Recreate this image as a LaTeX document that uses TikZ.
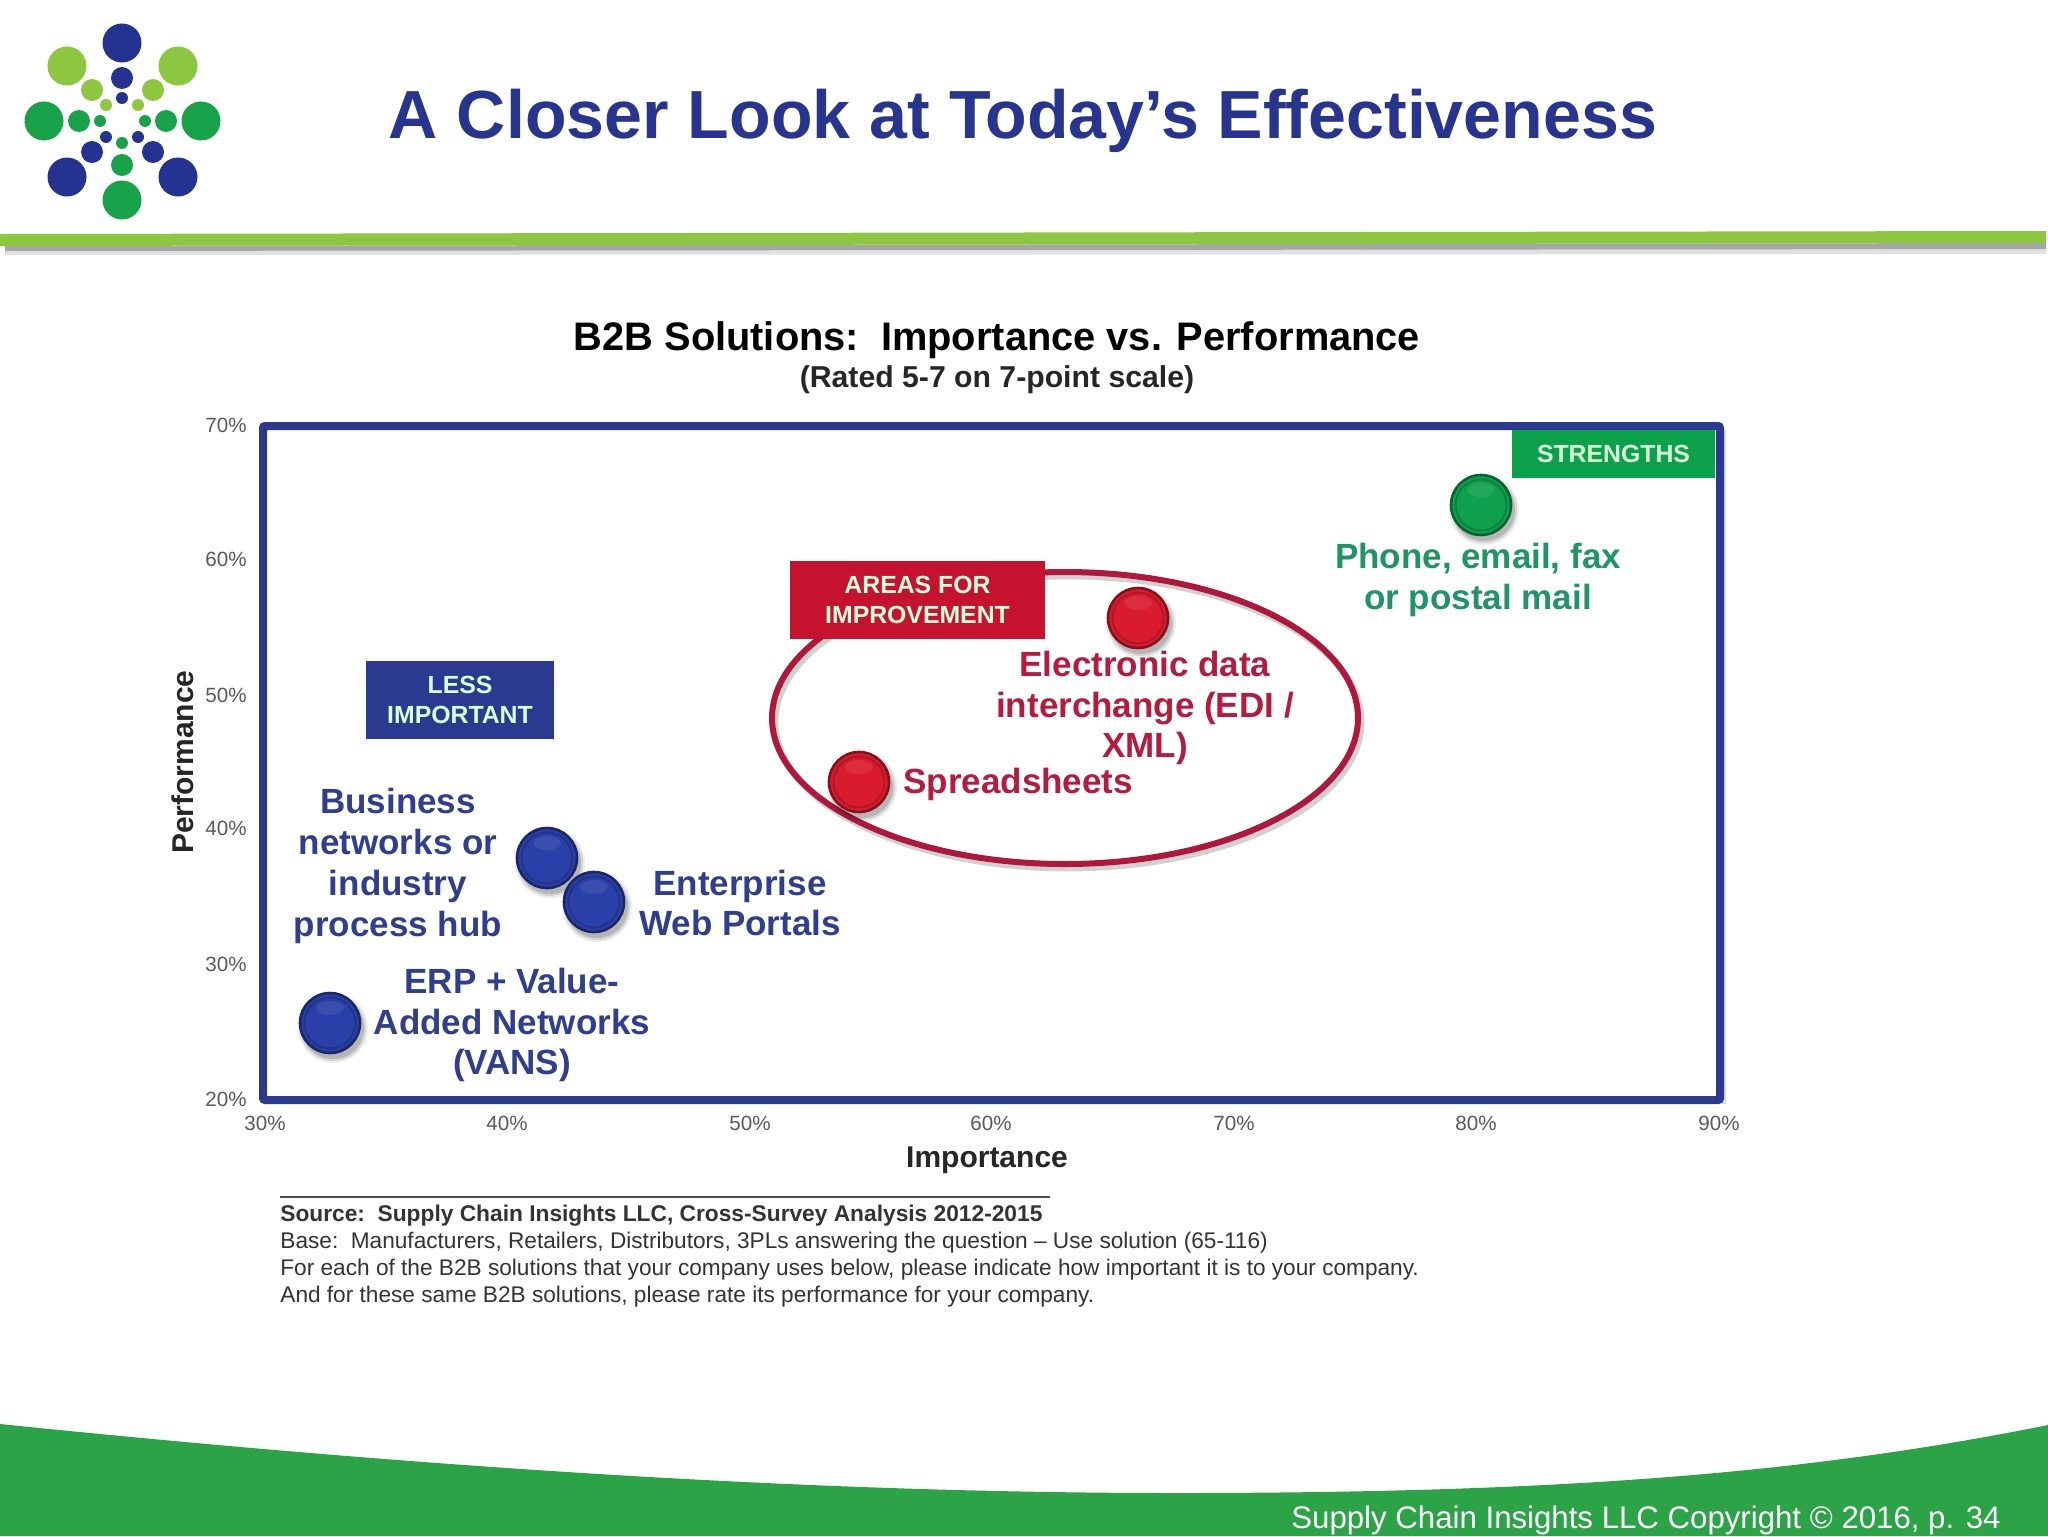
\documentclass[tikz,border=0pt]{standalone}
\usepackage{fontspec}
\setmainfont{Liberation Sans}
\definecolor{navy}{HTML}{2B3990}
\definecolor{logonavy}{HTML}{24338F}
\definecolor{titleblue}{HTML}{27358F}
\definecolor{logogreen}{HTML}{18A24A}
\definecolor{lime}{HTML}{8DC63F}
\definecolor{footgreen}{HTML}{2CA346}
\definecolor{boxgreen}{HTML}{0BA14B}
\definecolor{boxred}{HTML}{C4122F}
\definecolor{ringred}{HTML}{B0173C}
\definecolor{lblblue}{HTML}{2F3E8F}
\definecolor{lblred}{HTML}{B51B3E}
\definecolor{lblgreen}{HTML}{1F9563}
\definecolor{ballblue}{HTML}{2A3FA8}
\definecolor{ballred}{HTML}{D81C2E}
\definecolor{ballgreen}{HTML}{0FA04E}
\newcommand{\fsz}[2]{\fontsize{#1}{#2}\selectfont}
\newcommand{\dotc}[4]{\fill[#1] (#2,#3) circle[radius=#4];}
\newcommand{\ball}[4]{%
  \fill[black,opacity=.07] (#2+3,#3+5) circle[radius=35];
  \fill[black,opacity=.10] (#2+3,#3+5) circle[radius=33];
  \fill[black,opacity=.14] (#2+3,#3+5) circle[radius=31];
  \node[ballnode,fill=ball#1,draw=ball#1!62!black] (#4) at (#2,#3) {};
  \draw[ball#1!82!black,line width=1pt] (#2,#3) circle[radius=25.5];
  \fill[white,opacity=.08] (#2,#3-15) ellipse[x radius=14,y radius=7];
  }
\tikzset{
  ballnode/.style={circle,minimum size=30pt,inner sep=0pt,line width=1.3pt},
  tick/.style={font=\fsz{10.3}{12},text=black!65},
  lbl/.style={font=\bfseries\fsz{17.5}{20.4},align=center,inner sep=0pt},
  bluelbl/.style={lbl,text=lblblue},
  redlbl/.style={lbl,text=lblred},
  greenlbl/.style={lbl,text=lblgreen},
  tag/.style={font=\bfseries\fsz{12.4}{15},align=center,inner sep=0pt,text=white!85!green},
  note/.style={font=\fsz{11.32}{13},anchor=west,inner sep=0pt,text=black!80},
}
\begin{document}
\begin{tikzpicture}[x=0.5pt,y=-0.5pt]
\useasboundingbox (0,0) rectangle (2048,1536);
\fill[white] (0,0) rectangle (2048,1536);
% logo
\foreach \a/\b/\c/\d in {logonavy/122/43/19.5,logonavy/122/78/11,logonavy/122/98/6,
  lime/67/66/19.5,lime/178/66/19.5,lime/92/90/11,lime/153/90/11,lime/106/105/6,lime/138/105/6,
  logogreen/44/121/19.5,logogreen/201/121/19.5,logogreen/79/121/11,logogreen/166/121/11,logogreen/100/121/6,logogreen/145/121/6,
  logonavy/67/177/19.5,logonavy/178/177/19.5,logonavy/92/152/11,logonavy/153/152/11,logonavy/106/137/6,logonavy/138/137/6,
  logogreen/122/200/19.5,logogreen/122/165/11,logogreen/122/143/6}
  {\dotc{\a}{\b}{\c}{\d}}
% header
\node[font=\bfseries\fsz{34.06}{40},text=titleblue,inner sep=0pt] (title) at (1023,121) {A Closer Look at Today’s Effectiveness};
\fill[black!12] (5,246) -- (2046,243) -- (2046,254) -- (5,255) -- cycle;
\fill[black!35] (5,246) -- (2046,243) -- (2046,249) -- (5,251) -- cycle;
\fill[lime] (0,234) -- (2046,231) -- (2046,243) -- (0,246) -- cycle;
% footer
\fill[footgreen] (0,1424) .. controls (400,1465) and (800,1493) .. (1175,1493) .. controls (1550,1493) and (1800,1475) .. (2048,1425) -- (2048,1536) -- (0,1536) -- cycle;
\node[font=\fsz{15.6}{19},text=white,anchor=east,inner sep=0pt] (copy) at (2001,1520) {Supply Chain Insights LLC Copyright © 2016, p. 34};
% chart title
\node[font=\bfseries\fsz{19.9}{23},inner sep=0pt] (ct) at (997,340) {B2B Solutions:\ \ Importance vs. Performance};
\node[font=\bfseries\fsz{15.1}{17},inner sep=0pt,text=black!85] (cs) at (997,380) {(Rated 5-7 on 7-point scale)};
% frame
\fill[navy!18] (266,430) rectangle (1726,1104);
\draw[navy,line width=4pt,fill=white,rounded corners=1pt] (263,426) rectangle (1720,1100);
% tags
\node[fill=boxgreen,minimum width=101.5pt,minimum height=24pt,tag] (str) at (1613.5,454) {STRENGTHS};
% ellipse
\draw[black!18,line width=3.4pt] (1068,722) ellipse[x radius=293,y radius=146];
\draw[ringred,line width=3pt] (1065,718) ellipse[x radius=293,y radius=146];
\node[fill=boxred,minimum width=127.5pt,minimum height=39pt,tag] (afi) at (917.5,600) {AREAS FOR\\IMPROVEMENT};
\node[fill=navy,minimum width=94pt,minimum height=39pt,tag] (li) at (460,700) {LESS\\IMPORTANT};
% balls
\ball{green}{1481}{505}{b1}
\ball{red}{1138}{618}{b2}
\ball{red}{859}{782}{b3}
\ball{blue}{547}{858}{b4}
\ball{blue}{594}{902}{b5}
\ball{blue}{330}{1023}{b6}
% labels
\node[greenlbl] (l1) at (1478,580) {Phone, email, fax\\or postal mail};
\node[redlbl] (l2) at (1145,708) {Electronic data\\interchange (EDI /\\XML)};
\node[redlbl,anchor=west] (l3) at (903,784) {Spreadsheets};
\node[bluelbl] (l4) at (398,866) {Business\\networks or\\industry\\process hub};
\node[bluelbl] (l5) at (740,903) {Enterprise\\Web Portals};
\node[bluelbl] (l6) at (512,1025) {ERP + Value-\\Added Networks\\(VANS)};
% ticks
\foreach \n/\t/\y in {ya/70/425,yb/60/559,yc/50/695,yd/40/828,ye/30/964,yf/20/1099}
  \node[tick,anchor=east,inner sep=0pt] (\n) at (247,\y) {\t\%};
\foreach \n/\t/\x in {xa/30/265,xb/40/507,xc/50/750,xd/60/991,xe/70/1234,xf/80/1476,xg/90/1719}
  \node[tick,inner sep=0pt] (\n) at (\x,1123) {\t\%};
\node[font=\bfseries\fsz{15}{17},rotate=90,inner sep=0pt,text=black!85] (yl) at (183,762) {Performance};
\node[font=\bfseries\fsz{15}{17},inner sep=0pt,text=black!85] (xl) at (987,1160) {Importance};
% source
\coordinate (sa) at (280,1197);
\coordinate (sb) at (1050,1197);
\draw[black!70,line width=1pt] (sa) -- (sb);
\node[note,font=\bfseries\fsz{11.37}{13}] (n1) at (280,1216) {Source:\ \ Supply Chain Insights LLC, Cross-Survey Analysis 2012-2015};
\node[note] (n2) at (280,1243) {Base:\ \ Manufacturers, Retailers, Distributors, 3PLs answering the question – Use solution (65-116)};
\node[note] (n3) at (280,1270) {For each of the B2B solutions that your company uses below, please indicate how important it is to your company.};
\node[note] (n4) at (280,1297) {And for these same B2B solutions, please rate its performance for your company.};
\end{tikzpicture}
\end{document}
